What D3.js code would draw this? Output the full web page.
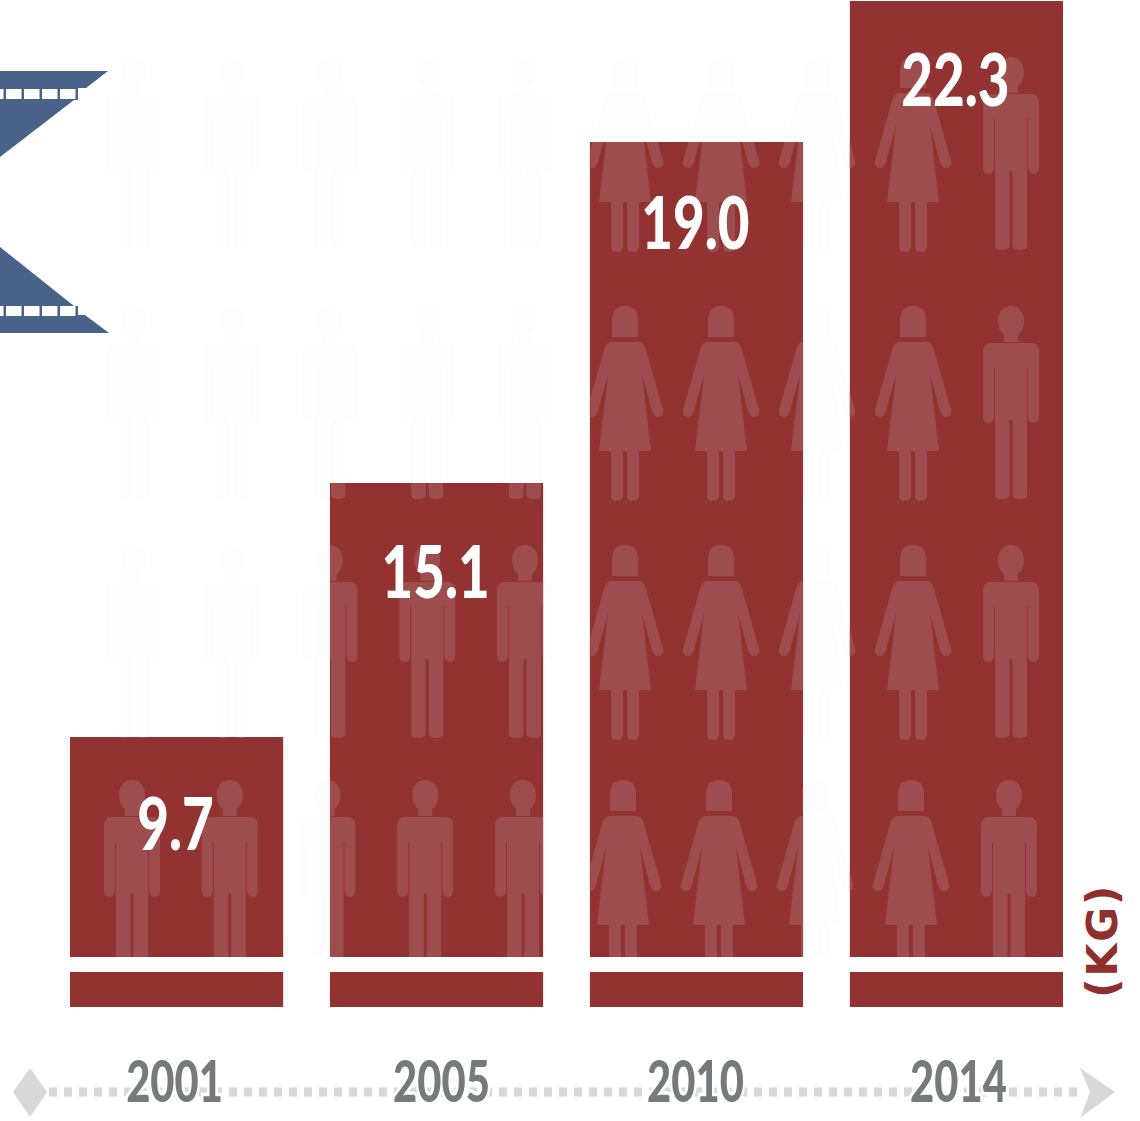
<!DOCTYPE html>
<html>
<head>
<meta charset="utf-8">
<script src="https://cdn.jsdelivr.net/npm/d3@7/dist/d3.min.js"></script>
<style>
  html, body { margin: 0; background: #fff; }
  svg { display: block; }
</style>
</head>
<body>
<svg id="chart" width="1140" height="1121"></svg>
<script>
// Chart data
const years = ["2001", "2005", "2010", "2014"];
const values = [9.7, 15.1, 19.0, 22.3];
const unitLabel = "(KG)";
const figureKinds = ["man", "man", "man", "man", "man", "woman", "woman", "woman", "woman", "man"];

// Layout
const W = 1140, H = 1121;
const barRed = "#933331", figureOnBar = "#9d4d4e", figureOffBar = "#fdfdfd";
const navy = "#48628a", axisGrey = "#d8d8d8", yearGrey = "#777a7d";
const breakTop = 957, breakBottom = 972;
const rowTops = [57, 306, 545, 780];
const rowNudge = [0, 0, 0, -2];
const labelDrop = [113, 115, 107, 105];
const yearNudge = [-2, 5, -1, 2];
const axisY = 1092;

const svg = d3.select("#chart");

const x = d3.scaleBand().domain(years).range([70, 1063]).paddingInner(0.18);
// The axis is broken near the base, so the value scale runs through piecewise segments.
const y = d3.scaleLinear().domain([0, 9.7, 15.1, 19.0, 22.3]).range([1007, 737, 483, 142, 1]);
const figureX = d3.scaleLinear().domain([0, 4, 5, 8, 9]).range([134, 525, 625, 913, 1011]);

// Pictogram outlines, origin at the top centre of the figure.
const figurePath = {
  man: [
    "M-13 15C-13 5 -7 0 0 0C7 0 13 5 13 15C13 22 10 27 7 29L7 36L-7 36L-7 29C-10 27 -13 22 -13 15Z",
    "M-20 37L20 37Q28 37 28 46L28 110Q28 117 23 117Q17 117 17 110L17 62L16 62L16 189Q16 193 9 193Q1.5 193 1.5 189L1.5 114L-1.5 114L-1.5 189Q-1.5 193 -9 193Q-16 193 -16 189L-16 62L-17 62L-17 110Q-17 117 -23 117Q-28 117 -28 110L-28 46Q-28 37 -20 37Z"
  ].join(""),
  woman: [
    "M-13 14Q-13 0 0 0Q13 0 13 14L13 31L-13 31Z",
    "M-14 36L14 36Q19 36 21 44L38 104Q39 111 33 111Q29 111 27 105L17 68L26 145L14 145L14 190Q14 195 8 195Q2 195 2 190L2 145L-2 145L-2 190Q-2 195 -8 195Q-14 195 -14 190L-14 145L-26 145L-17 68L-27 105Q-29 111 -33 111Q-39 111 -38 104L-21 44Q-19 36 -14 36Z"
  ].join("")
};

const figures = d3.cross(rowTops.map((top, r) => ({top, nudge: rowNudge[r]})), figureKinds.map((kind, c) => ({kind, c})))
  .map(([row, col]) => ({kind: col.kind, px: figureX(col.c) + row.nudge, py: row.top}));

function drawFigures(group, fill) {
  group.selectAll("path").data(figures).join("path")
    .attr("d", d => figurePath[d.kind])
    .attr("transform", d => `translate(${d.px},${d.py})`)
    .attr("fill", fill);
}

// Ribbon end at the left edge
const ribbon = svg.append("g");
const ribbonLine = d3.line();
ribbon.append("path").attr("fill", navy)
  .attr("d", ribbonLine([[0, 71], [108, 71], [86, 88], [78, 88], [78, 100], [74, 100], [0, 157]]) + "Z");
ribbon.append("path").attr("fill", navy)
  .attr("d", ribbonLine([[0, 247], [74, 306], [78, 306], [78, 315], [85, 315], [109, 333], [0, 333]]) + "Z");
[89, 306].forEach(sy => {
  ribbon.selectAll(null).data(d3.range(-12, 76, 18)).join("rect")
    .attr("x", d => d).attr("y", sy).attr("width", 15.5).attr("height", 10).attr("fill", "#fff");
});

// Faint figures on the page
drawFigures(svg.append("g"), figureOffBar);

// Bars
svg.append("defs").append("clipPath").attr("id", "bar-clip")
  .selectAll("rect").data(values).join("rect")
  .attr("x", (d, i) => x(years[i])).attr("width", x.bandwidth())
  .attr("y", d => y(d)).attr("height", d => y(0) - y(d));

svg.append("g").selectAll("rect").data(values).join("rect")
  .attr("x", (d, i) => x(years[i])).attr("width", x.bandwidth())
  .attr("y", d => y(d)).attr("height", d => y(0) - y(d))
  .attr("fill", barRed);

// Brighter figures where they cross a bar
drawFigures(svg.append("g").attr("clip-path", "url(#bar-clip)"), figureOnBar);

// Axis break: covers the bars and ends the figures above the base block
svg.append("rect").attr("x", 60).attr("width", 1020)
  .attr("y", breakTop).attr("height", 50).attr("fill", "#fff");
svg.append("g").selectAll("rect").data(values).join("rect")
  .attr("x", (d, i) => x(years[i])).attr("width", x.bandwidth())
  .attr("y", breakBottom).attr("height", y(0) - breakBottom)
  .attr("fill", barRed);

// Value labels
svg.append("g").selectAll("text").data(values).join("text")
  .attr("transform", (d, i) => `translate(${x(years[i]) + x.bandwidth() / 2 - 1},${y(d) + labelDrop[i]}) scale(0.76,1)`)
  .attr("text-anchor", "middle")
  .attr("font-family", "Lato").attr("font-weight", 900).attr("font-size", 72)
  .attr("fill", "#fff")
  .text(d => d.toFixed(1));

// Dotted time axis with its diamond and arrow head
svg.append("g").selectAll("rect").data(d3.range(49, 1080, 15)).join("rect")
  .attr("x", d => d).attr("y", axisY - 4.5).attr("width", 8).attr("height", 9).attr("fill", axisGrey);
svg.append("path").attr("fill", axisGrey)
  .attr("d", ribbonLine([[13, 1092], [30, 1068], [47, 1092], [30, 1117]]) + "Z");
svg.append("path").attr("fill", axisGrey)
  .attr("d", ribbonLine([[1080, 1068], [1115, 1092], [1080, 1118], [1090, 1092]]) + "Z");

// Year labels
svg.append("g").selectAll("text").data(years).join("text")
  .attr("transform", (d, i) => `translate(${x(d) + x.bandwidth() / 2 + yearNudge[i]},1102) scale(0.72,1)`)
  .attr("text-anchor", "middle")
  .attr("font-family", "Lato").attr("font-weight", 900).attr("font-size", 58)
  .attr("fill", yearGrey)
  .attr("stroke", "#fff").attr("stroke-width", 7).attr("paint-order", "stroke")
  .text(d => d);

// Unit, reading upwards beside the last bar
svg.append("text")
  .attr("transform", "translate(1117,998) rotate(-90)")
  .attr("font-family", "DejaVu Sans").attr("font-weight", 700).attr("font-size", 43)
  .attr("letter-spacing", 1.5)
  .attr("fill", "#8f2f2e")
  .text(unitLabel);
</script>
</body>
</html>
